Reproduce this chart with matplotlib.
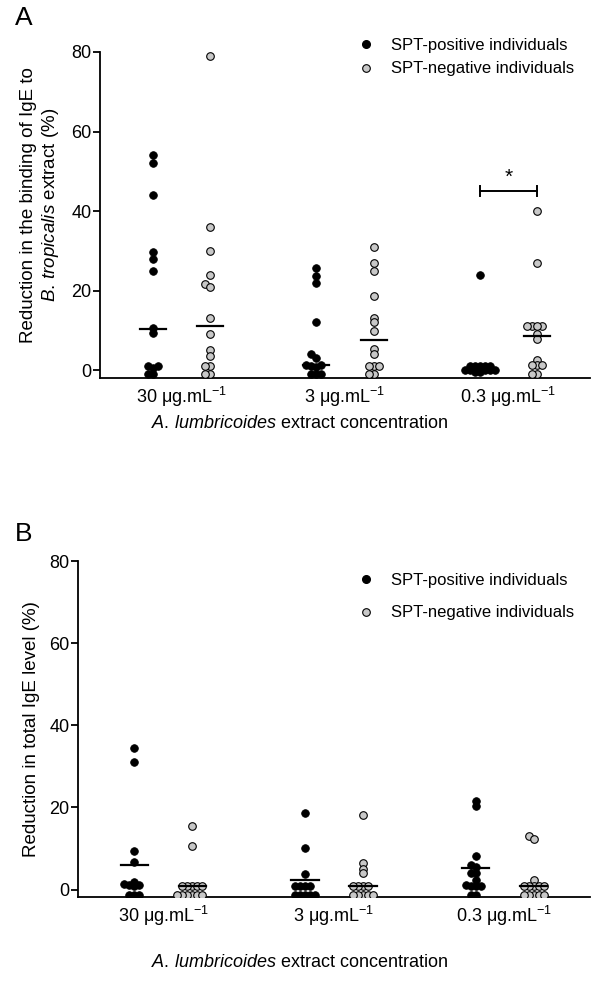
import matplotlib
matplotlib.use('Agg')
import matplotlib.pyplot as plt
from matplotlib.lines import Line2D
import numpy as np

plt.rcParams['font.family'] = ['Liberation Sans', 'DejaVu Sans']
plt.rcParams['mathtext.fontset'] = 'custom'
plt.rcParams['mathtext.rm'] = 'Liberation Sans'
plt.rcParams['mathtext.it'] = 'Liberation Sans:italic'

# ---- data ----
conc_labels = ['30 μg.mL$^{-1}$', '3 μg.mL$^{-1}$', '0.3 μg.mL$^{-1}$']

# panel A : reduction in IgE binding to B. tropicalis extract (%)
A_pos = [[54, 52, 44, 29.7, 28, 25, 10.6, 9.4, 1, 1, 0.5, -1, -1],
         [25.7, 23.6, 22, 12, 4, 3.1, 1.3, 1.3, 1.0, 0.7, -1, -1, -1],
         [23.9, 1.1, 1.1, 1.1, 1.1, 1.1, 0, 0, 0, 0, 0, -0.5, -0.5]]
A_neg = [[79, 36, 30, 24, 21.6, 21, 13, 9, 5, 3.6, 1, 1, -1, -1],
         [31, 27, 25, 18.6, 13.2, 12, 9.7, 5.4, 4, 1, 1, 1, -1, -1],
         [40, 27, 11.2, 11.2, 11, 11.2, 9.1, 7.9, 2.5, 1.2, 1.2, 1.2, -1, -1]]
A_pos_line = [10.3, 1.3, 0.0]
A_neg_line = [11.0, 7.6, 8.6]
A_sig_y = 45

# panel B : reduction in total IgE level (%)
B_pos = [[34.5, 31, 9.5, 6.6, 1.9, 1.4, 1.0, 1.0, 0.9, -1.2, -1.2, -1.2],
         [18.6, 10.1, 3.8, 0.8, 0.8, 0.8, 0.8, -1.2, -1.2, -1.2, -1.2, -1.2],
         [21.6, 20.4, 8.3, 6.0, 5.6, 4.0, 4.0, 2.4, 1.1, 0.8, 0.8, 0.8, -1.2, -1.2]]
B_neg = [[15.4, 10.5, 0.8, 0.8, 0.8, 0.8, 0.8, -1.2, -1.2, -1.2, -1.2, -1.2, -1.2],
         [18.2, 6.5, 5.1, 4.0, 0.8, 0.8, 0.8, 0.8, -1.2, -1.2, -1.2, -1.2, -1.2],
         [13, 12.4, 2.3, 0.8, 0.8, 0.8, 0.8, 0.8, -1.2, -1.2, -1.2, -1.2, -1.2]]
B_pos_line = [6.1, 2.4, 5.3]
B_neg_line = [0.8, 0.8, 0.8]


def swarm(ax, x0, vals, rx=4.8, ry=3.8, step=5.0):
    # simple beeswarm in pixel space
    vals = np.asarray(vals, float)
    placed = []
    xs = np.empty(len(vals))
    inv = ax.transData.inverted()
    for i in np.argsort(vals, kind='stable'):
        px, py = ax.transData.transform((x0, vals[i]))
        for k in [0, -1, 1, -2, 2, -3, 3, -4, 4, -5, 5, -6, 6, -7, 7]:
            cx = px + k * step
            if all(((cx - qx) / rx) ** 2 + ((py - qy) / ry) ** 2 >= 1 for qx, qy in placed):
                break
        placed.append((cx, py))
        xs[i] = inv.transform((cx, py))[0]
    return xs


def panel(ax, pos, neg, pos_line, neg_line, off, ylim):
    ax.set_xlim(0.5, 3.5)
    ax.set_ylim(*ylim)
    for g in range(3):
        xp = swarm(ax, g + 1 - off, pos[g])
        xn = swarm(ax, g + 1 + off, neg[g])
        ax.scatter(xp, pos[g], s=30, color='black', edgecolors='black', linewidths=0.6, zorder=3)
        ax.scatter(xn, neg[g], s=30, color='#c8c8c8', edgecolors='black', linewidths=0.8, zorder=3)
        ax.plot([g + 1 - off - 0.08, g + 1 - off + 0.08], [pos_line[g]] * 2, color='black', lw=1.6, zorder=4)
        ax.plot([g + 1 + off - 0.08, g + 1 + off + 0.08], [neg_line[g]] * 2, color='black', lw=1.6, zorder=4)
    for s in ['top', 'right']:
        ax.spines[s].set_visible(False)
    for s in ['left', 'bottom']:
        ax.spines[s].set_linewidth(1.3)
    ax.spines['left'].set_bounds(ylim[0], 80)
    ax.set_yticks([0, 20, 40, 60, 80])
    ax.set_xticks([1, 2, 3])
    ax.set_xticklabels(conc_labels)
    ax.tick_params(axis='y', length=5, width=1.3, labelsize=13, pad=1)
    ax.tick_params(axis='x', length=0, labelsize=13, pad=5)


fig = plt.figure(figsize=(6, 9.84), dpi=100)

xl = '$\\mathit{A.\\,lumbricoides}$ extract concentration'

axA = fig.add_axes([100 / 600, 1 - 378 / 984, 490 / 600, 326 / 984])
panel(axA, A_pos, A_neg, A_pos_line, A_neg_line, 0.175, (-2, 80))
axA.set_ylabel('Reduction in the binding of IgE to\n$\\mathit{B.\\,tropicalis}$ extract (%)', fontsize=13.5)
axA.yaxis.set_label_coords((61 - 100) / 490, 0.53)
axA.set_xlabel(xl, fontsize=13)
axA.xaxis.set_label_coords((300 - 100) / 490, (378 - 415) / 326)
# significance bracket
x1, x2 = 3 - 0.175, 3 + 0.175
axA.plot([x1, x2], [A_sig_y, A_sig_y], color='black', lw=1.4)
axA.plot([x1, x1], [A_sig_y - 1.3, A_sig_y + 1.3], color='black', lw=1.4)
axA.plot([x2, x2], [A_sig_y - 1.3, A_sig_y + 1.3], color='black', lw=1.4)
axA.text(3, A_sig_y + 1.2, '*', ha='center', va='bottom', fontsize=15)

axB = fig.add_axes([78 / 600, 1 - 897 / 984, 512 / 600, 336 / 984])
panel(axB, B_pos, B_neg, B_pos_line, B_neg_line, 0.17, (-1.8, 80))
axB.set_ylabel('Reduction in total IgE level (%)', fontsize=13.5)
axB.yaxis.set_label_coords((40 - 78) / 512, 0.5)
axB.set_xlabel(xl, fontsize=13)
axB.xaxis.set_label_coords((300 - 78) / 512, (897 - 954) / 336)

handles = [Line2D([], [], ls='none', marker='o', ms=5.5, mfc='black', mec='black'),
           Line2D([], [], ls='none', marker='o', ms=5.5, mfc='#c8c8c8', mec='black', mew=0.8)]
names = ['SPT-positive individuals', 'SPT-negative individuals']
fig.legend(handles, names, loc='upper left', bbox_to_anchor=(358 / 600, 1 - 38 / 984),
           frameon=False, borderpad=0, borderaxespad=0, handlelength=1.0,
           handletextpad=1.0, labelspacing=0.5, fontsize=12)
fig.legend(handles, names, loc='upper left', bbox_to_anchor=(358 / 600, 1 - 573 / 984),
           frameon=False, borderpad=0, borderaxespad=0, handlelength=1.0,
           handletextpad=1.0, labelspacing=1.05, fontsize=12)

fig.text(24 / 600, 1 - 18 / 984, 'A', ha='center', va='center', fontsize=19)
fig.text(24 / 600, 1 - 534 / 984, 'B', ha='center', va='center', fontsize=19)

fig.savefig('out.png', dpi=100)
